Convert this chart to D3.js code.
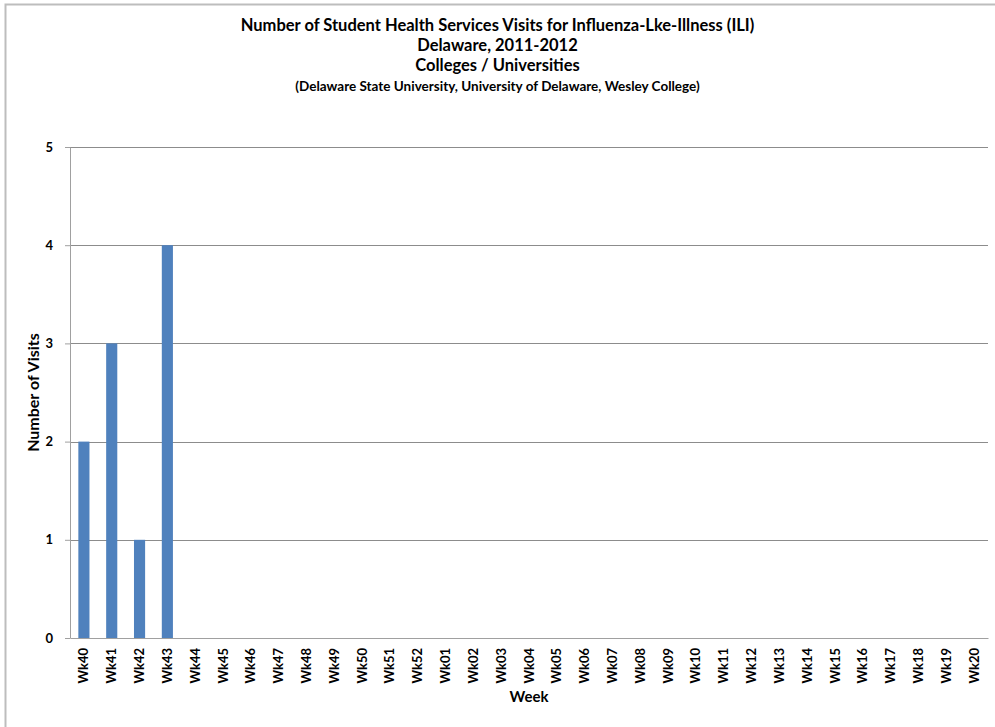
<!DOCTYPE html>
<meta charset="utf-8">
<head>
<script src="https://d3js.org/d3.v7.min.js"></script>
<style>
  body { margin: 0; background: #fff; }
  text { font-family: Lato, "Open Sans", sans-serif; font-weight: bold; fill: #000; }
</style>
</head>
<body>
<div id="my_dataviz"></div>
<script>

// data
var weeks = ["Wk40","Wk41","Wk42","Wk43","Wk44","Wk45","Wk46","Wk47","Wk48","Wk49","Wk50","Wk51","Wk52",
             "Wk01","Wk02","Wk03","Wk04","Wk05","Wk06","Wk07","Wk08","Wk09","Wk10","Wk11","Wk12",
             "Wk13","Wk14","Wk15","Wk16","Wk17","Wk18","Wk19","Wk20"];
var visits = [2, 3, 1, 4, 0, 0, 0, 0, 0, 0, 0, 0, 0,
              0, 0, 0, 0, 0, 0, 0, 0, 0, 0, 0, 0,
              0, 0, 0, 0, 0, 0, 0, 0];
var yTicks = [0, 1, 2, 3, 4, 5];
var titleLines = ["Number of Student Health Services Visits for Influenza-Lke-Illness (ILI)",
                  "Delaware, 2011-2012",
                  "Colleges / Universities"];
var subtitle = "(Delaware State University, University of Delaware, Wesley College)";

var W = 995, H = 727;
var margin = {top: 147, right: 7, bottom: 89, left: 70},
    width = W - margin.left - margin.right,
    height = H - margin.top - margin.bottom;

var root = d3.select("#my_dataviz")
  .append("svg")
    .attr("width", W)
    .attr("height", H);

// outer chart border
root.append("rect")
  .attr("x", 5.5).attr("y", 4.5)
  .attr("width", W).attr("height", H)
  .attr("fill", "none")
  .attr("stroke", "#bdbdbd")
  .attr("stroke-width", 2);

// titles
var ty = [27, 47, 67];
titleLines.forEach(function(t, i) {
  root.append("text")
    .attr("x", W / 2)
    .attr("y", ty[i])
    .attr("text-anchor", "middle")
    .attr("dominant-baseline", "middle")
    .style("font-size", "16.5px")
    .text(t);
});
root.append("text")
  .attr("x", W / 2)
  .attr("y", 88)
  .attr("text-anchor", "middle")
  .attr("dominant-baseline", "middle")
  .style("font-size", "13.5px")
  .text(subtitle);

var svg = root.append("g")
  .attr("transform", "translate(" + margin.left + "," + margin.top + ")");

var x = d3.scaleBand()
  .domain(weeks)
  .range([0, width])
  .paddingInner(0.6)
  .paddingOuter(0.3);

var y = d3.scaleLinear()
  .domain([0, 5])
  .range([height, 0]);

// gridlines
svg.append("g")
  .selectAll("line")
  .data(yTicks.filter(function(d) { return d > 0; }))
  .enter().append("line")
    .attr("x1", 0).attr("x2", width)
    .attr("y1", function(d) { return Math.round(y(d)) + 0.5; })
    .attr("y2", function(d) { return Math.round(y(d)) + 0.5; })
    .attr("stroke", "#8c8c8c");

// Y axis
var yAxis = svg.append("g")
  .call(d3.axisLeft(y).tickValues(yTicks).tickSize(5).tickSizeOuter(0).tickFormat(d3.format("d")));
yAxis.select(".domain").attr("stroke", "#a0a0a0");
yAxis.selectAll(".tick line").attr("stroke", "#a0a0a0");
yAxis.selectAll(".tick text")
  .attr("x", -17)
  .style("font-size", "13px")
  .style("font-family", "Lato, sans-serif")
  .style("font-weight", "bold");

// bars
svg.selectAll(".bar")
  .data(weeks)
  .enter().append("rect")
    .attr("class", "bar")
    .attr("x", function(d) { return x(d); })
    .attr("width", x.bandwidth())
    .attr("y", function(d, i) { return y(visits[i]); })
    .attr("height", function(d, i) { return height - y(visits[i]); })
    .attr("fill", "#4f81bd");

// X axis
var xAxis = svg.append("g")
  .attr("transform", "translate(0," + height + ")")
  .call(d3.axisBottom(x).tickSize(0).tickSizeOuter(0));
xAxis.select(".domain").attr("stroke", "#a0a0a0");
xAxis.selectAll(".tick text")
  .attr("transform", "rotate(-90)")
  .attr("text-anchor", "end")
  .attr("x", -10)
  .attr("y", 0)
  .attr("dy", "0.35em")
  .style("font-size", "13px")
  .style("font-family", "Lato, sans-serif")
  .style("font-weight", "bold");

// axis titles
svg.append("text")
  .attr("x", width / 2)
  .attr("y", height + 60)
  .attr("text-anchor", "middle")
  .attr("dominant-baseline", "middle")
  .style("font-size", "15px")
  .text("Week");

svg.append("text")
  .attr("transform", "rotate(-90)")
  .attr("x", -(y(2.5)))
  .attr("y", -35)
  .attr("text-anchor", "middle")
  .attr("dominant-baseline", "middle")
  .style("font-size", "16px")
  .text("Number of Visits");

</script>
</body>
</html>
